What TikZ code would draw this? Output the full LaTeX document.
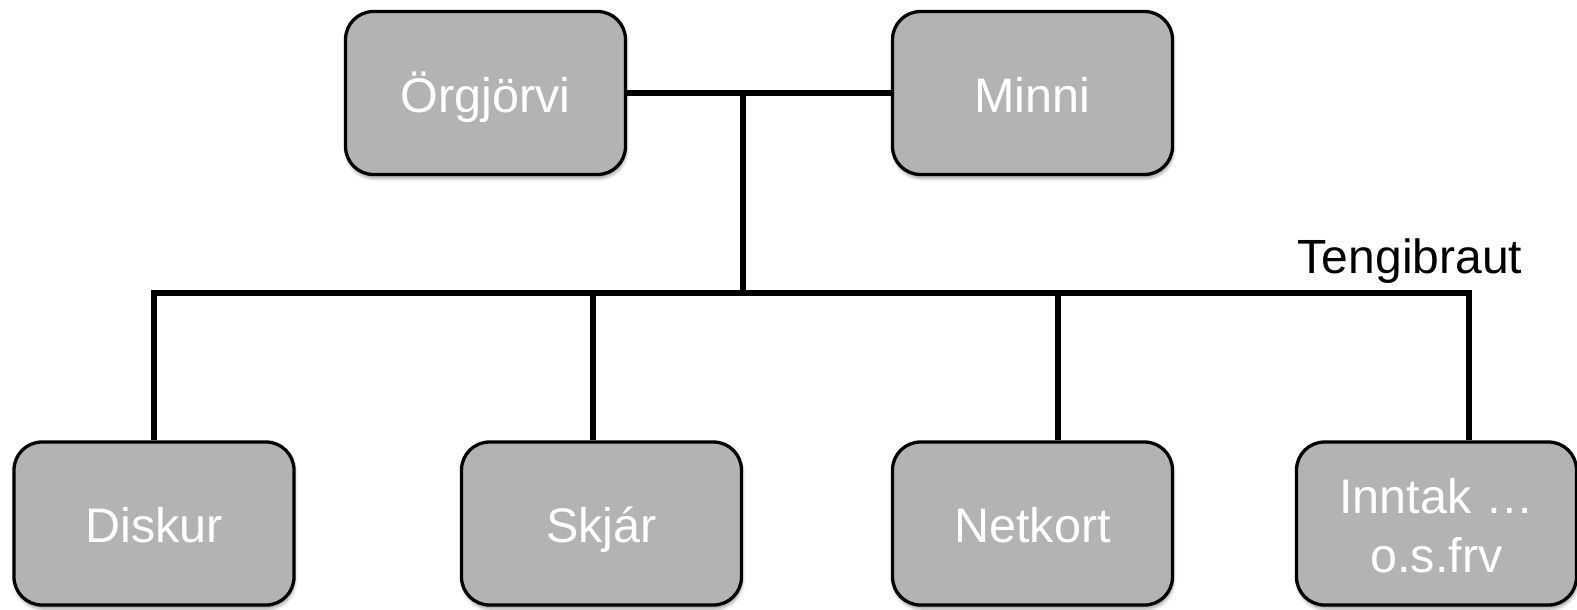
\documentclass[tikz,border=0pt]{standalone}
\usepackage{fontspec}
\setmainfont{Liberation Sans}
\usetikzlibrary{shadows.blur}
\definecolor{boxgray}{HTML}{B3B3B3}
\tikzset{
  unit/.style={draw=black, line width=3.3pt, fill=boxgray, rounded corners=28pt,
    text=white, align=center, inner sep=0pt,
    minimum width=280pt, minimum height=163pt,
    text height=40pt, text depth=2pt,
    font=\fontsize{48.5}{59}\selectfont,
    blur shadow={shadow xshift=1pt, shadow yshift=-4pt, shadow opacity=35, shadow blur radius=3pt}},
  wire/.style={line width=5.5pt, black},
  caption/.style={font=\fontsize{48}{59}\selectfont, text=black, inner sep=0pt}
}
\begin{document}
\begin{tikzpicture}[x=1pt, y=-1pt]
  \useasboundingbox (0,0) rectangle (1577,610);

  % processor and memory
  \node[unit] (cpu) at (485.5,93) {Örgjörvi};
  \node[unit] (mem) at (1032.5,93) {Minni};

  % devices on the bus
  \node[unit] (disk) at (154,523.5) {Diskur};
  \node[unit] (scr)  at (601.5,523.5) {Skjár};
  \node[unit] (nic)  at (1032.5,523.5) {Netkort};
  \node[unit, text height=99pt] (inp) at (1436.5,523.5) {Inntak …\\o.s.frv};

  % bus junctions
  \coordinate (hub) at (743,93);
  \coordinate (drop) at (743,293);
  \coordinate (busR) at (1469,293);
  \coordinate (tapS) at (593,293);
  \coordinate (tapN) at (1058,293);

  % connectors
  \draw[wire] (cpu.east) -- (mem.west);
  \draw[wire] (hub) -- (drop);
  \draw[wire] (disk.north) |- (busR) -- (busR |- inp.north);
  \draw[wire] (tapS) -- (tapS |- scr.north);
  \draw[wire] (tapN) -- (tapN |- nic.north);

  \node[caption, anchor=base] (buslabel) at (1410,273) {Tengibraut};
\end{tikzpicture}
\end{document}
